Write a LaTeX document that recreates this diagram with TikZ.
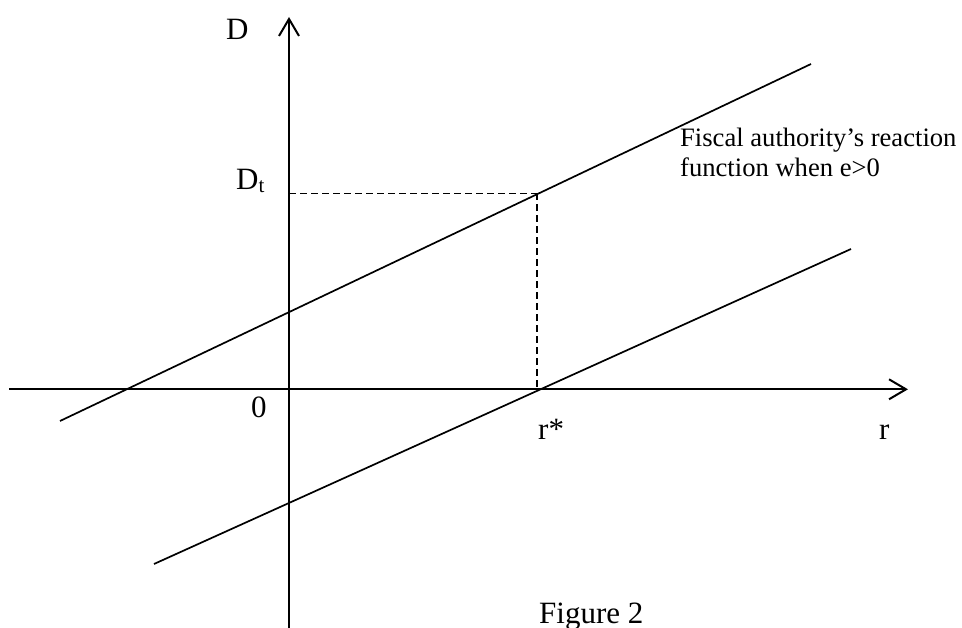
\documentclass[tikz,border=0pt]{standalone}
\usepackage{fontspec}
\setmainfont{Liberation Serif}
\usetikzlibrary{arrows.meta}
\begin{document}
\begin{tikzpicture}[x=1pt,y=-1pt,
  axis/.style={line width=2.2pt,-{Straight Barb[length=17pt,width=20pt,line width=2pt]}},
  curve/.style={line width=1.7pt},
  guide/.style={line width=1.5pt,dash pattern=on 7pt off 4pt},
  lbl/.style={inner sep=0pt,anchor=base west,font=\fontsize{31}{31}\selectfont},
  note/.style={inner sep=0pt,anchor=base west,font=\fontsize{26.6}{30}\selectfont,align=left}]
\useasboundingbox (0,0) rectangle (962,628);
% axes
\coordinate (ybot) at (289,628);
\coordinate (ytop) at (289,17);
\coordinate (xleft) at (9,389.3);
\coordinate (xright) at (908,389.3);
\draw[axis] (ybot) -- (ytop);
\draw[axis] (xleft) -- (xright);
% reaction lines
\coordinate (u1) at (60,421);
\coordinate (u2) at (811,64);
\coordinate (l1) at (154,564);
\coordinate (l2) at (851,249);
\draw[curve] (u1) -- (u2);
\draw[curve] (l1) -- (l2);
% guides
\coordinate (P) at (537,193.5);
\coordinate (Dfoot) at (289,193.5);
\coordinate (Rfoot) at (537,389.3);
\draw[guide] (Dfoot) -- (P);
\draw[guide] (P) -- (Rfoot);
% labels
\node[lbl] (labD) at (226,39.3) {D};
\node[lbl] (labDt) at (236,190) {D{\fontsize{21}{21}\selectfont\raisebox{-3pt}{t}}};
\node[lbl] (lab0) at (251,418) {0};
\node[lbl] (labrs) at (538,440) {r*};
\node[lbl] (labr) at (879,440) {r};
\node[note] (labfisc) at (680,176.7) {Fiscal authority’s reaction\\function when e>0};
\node[lbl] (labfig) at (539,623) {Figure 2};
\end{tikzpicture}
\end{document}
